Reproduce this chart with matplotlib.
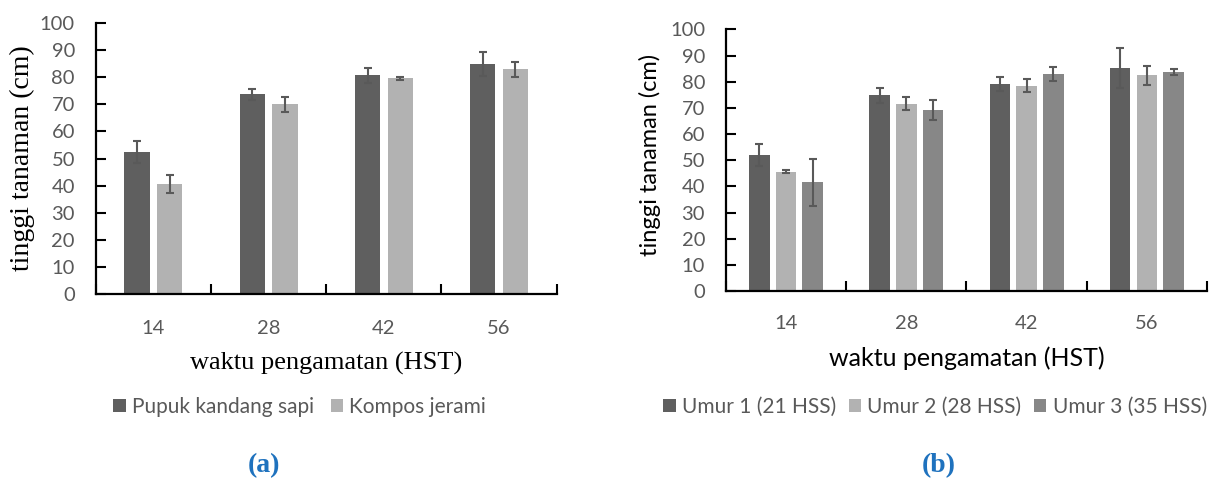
import numpy as np
import matplotlib.pyplot as plt

# data
hst = ['14', '28', '42', '56']

pupuk = [52.4, 73.7, 80.7, 84.8]
pupuk_err = [4.1, 2.0, 2.8, 4.4]
kompos = [40.6, 70.0, 79.6, 83.0]
kompos_err = [3.4, 2.9, 0.7, 2.7]

umur1 = [52.1, 74.8, 79.2, 85.3]
umur1_err = [4.3, 3.0, 2.7, 7.6]
umur2 = [45.7, 71.6, 78.5, 82.4]
umur2_err = [0.6, 2.5, 2.6, 3.7]
umur3 = [41.6, 69.3, 82.9, 83.7]
umur3_err = [9.0, 3.8, 2.7, 1.0]

c_dark = '#5f5f5f'
c_light = '#b2b2b2'
c_mid = '#878787'
txt_gray = '#595959'
sans = ['Lato', 'DejaVu Sans']
serif = ['Liberation Serif', 'DejaVu Serif']

fig = plt.figure(figsize=(12.18, 4.82), dpi=100)
ax1 = fig.add_axes([0.0786, 0.390, 0.3785, 0.562])
ax2 = fig.add_axes([0.596, 0.396, 0.395, 0.543])


def style(ax, xpad):
    ax.set_ylim(0, 100)
    ax.set_xlim(-0.5, len(hst) - 0.5)
    ax.set_yticks(np.arange(0, 101, 10))
    ax.set_xticks(np.arange(-0.5, len(hst), 1.0))
    ax.set_xticklabels([])
    ax.set_xticks(np.arange(len(hst)), minor=True)
    ax.set_xticklabels(hst, minor=True)
    ax.tick_params(axis='x', which='minor', length=0, pad=xpad, labelsize=14.5, labelcolor=txt_gray)
    ax.tick_params(axis='x', which='major', direction='in', length=7, width=1.5)
    ax.tick_params(axis='y', direction='in', length=7, width=1.5, labelsize=14.5, labelcolor=txt_gray, pad=15)
    for lab in ax.get_yticklabels() + ax.get_xticklabels(minor=True):
        lab.set_family(sans)
    for s in ['top', 'right']:
        ax.spines[s].set_visible(False)
    for s in ['left', 'bottom']:
        ax.spines[s].set_linewidth(1.6)


ekw = dict(ecolor=txt_gray, capsize=2.8, error_kw=dict(elinewidth=1.5, capthick=1.5))

x = np.arange(len(hst))
w = 0.22
b1 = ax1.bar(x - 0.142, pupuk, w, yerr=pupuk_err, color=c_dark, **ekw)
b2 = ax1.bar(x + 0.142, kompos, w, yerr=kompos_err, color=c_light, **ekw)
style(ax1, 19)
ax1.set_ylabel('tinggi tanaman (cm)', family=serif, fontsize=20, va='center')
ax1.yaxis.set_label_coords(-0.158, 0.5)
ax1.set_xlabel('waktu pengamatan (HST)', family=serif, fontsize=19, va='center')
ax1.xaxis.set_label_coords(0.5, -0.255)
ax1.legend([b1, b2], ['Pupuk kandang sapi', 'Kompos jerami'], loc='center',
           bbox_to_anchor=(0.246, 1 - 407 / 482), bbox_transform=fig.transFigure, ncol=2,
           frameon=False, prop={'family': sans, 'size': 15}, labelcolor=txt_gray,
           handlelength=0.6, handleheight=0.6, handletextpad=0.3, columnspacing=0.8)

w2 = 0.171
c1 = ax2.bar(x - 0.222, umur1, w2, yerr=umur1_err, color=c_dark, **ekw)
c2 = ax2.bar(x, umur2, w2, yerr=umur2_err, color=c_light, **ekw)
c3 = ax2.bar(x + 0.222, umur3, w2, yerr=umur3_err, color=c_mid, **ekw)
style(ax2, 17)
ax2.set_ylabel('tinggi tanaman (cm)', family=sans, fontsize=17, va='center')
ax2.yaxis.set_label_coords(-0.157, 0.52)
ax2.set_xlabel('waktu pengamatan (HST)', family=sans, fontsize=18, va='center')
ax2.xaxis.set_label_coords(0.5, -0.256)
ax2.legend([c1, c2, c3], ['Umur 1 (21 HSS)', 'Umur 2 (28 HSS)', 'Umur 3 (35 HSS)'], loc='center',
           bbox_to_anchor=(935 / 1218, 1 - 407 / 482), bbox_transform=fig.transFigure, ncol=3,
           frameon=False, prop={'family': sans, 'size': 15}, labelcolor=txt_gray,
           handlelength=0.6, handleheight=0.6, handletextpad=0.3, columnspacing=0.6)

fig.text(264 / 1218, 1 - 466 / 482, '(a)', family=serif, fontsize=20, fontweight='bold',
         color='#1f72be', ha='center', va='center')
fig.text(939 / 1218, 1 - 466 / 482, '(b)', family=serif, fontsize=20, fontweight='bold',
         color='#1f72be', ha='center', va='center')

fig.savefig('out.png', dpi=100)
